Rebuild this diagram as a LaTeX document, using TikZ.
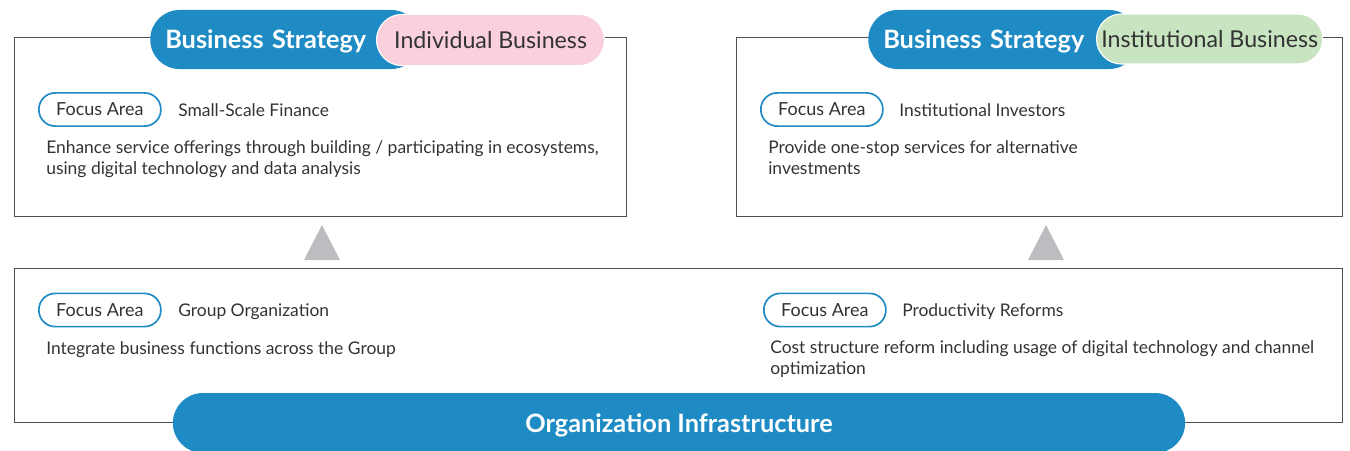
\documentclass[tikz,border=0pt]{standalone}
\usepackage{fontspec}
\setmainfont{Lato}
\usetikzlibrary{positioning,shapes.geometric}
\definecolor{stratblue}{HTML}{1F8BC4}
\definecolor{indpink}{HTML}{F9D0DC}
\definecolor{instgreen}{HTML}{C8E4C0}
\definecolor{framegray}{HTML}{505050}
\definecolor{arrowgray}{HTML}{BCBDC0}
\definecolor{textdark}{HTML}{333333}

\begin{document}
\begin{tikzpicture}[x=0.025cm, y=-0.025cm,
    panel/.style={draw=framegray, line width=0.6pt, inner sep=0pt, anchor=north west},
    headpill/.style={fill=stratblue, text=white, font=\fontsize{18}{20}\selectfont\bfseries, text depth=0pt, rounded corners=0.73cm, minimum height=1.475cm, inner xsep=0.375cm, text width=6cm, align=left, anchor=west},
    subpill/.style={draw=white, line width=0.8pt, rounded corners=0.64cm, minimum height=1.28cm, font=\fontsize{16.5}{18}\selectfont, text=textdark, anchor=west},
    focus/.style={draw=stratblue, line width=1.2pt, fill=white, rounded corners=0.41cm, minimum width=3.05cm, minimum height=0.83cm, font=\fontsize{12.8}{14}\selectfont, text=textdark, anchor=west},
    topic/.style={font=\fontsize{12.4}{14}\selectfont, text=textdark, anchor=west, inner sep=0pt},
    desc/.style={font=\fontsize{12.4}{15}\selectfont, text=textdark, anchor=north west, inner sep=0pt, align=left},
    basepill/.style={fill=stratblue, text=white, font=\fontsize{18}{20}\selectfont\bfseries, text depth=0pt, rounded corners=0.75cm, minimum width=25.3cm, minimum height=1.5cm}
]
\useasboundingbox (0,0) rectangle (1350,450);
\clip (0,0) rectangle (1350,450);

% Frames
\node[panel, minimum width=15.3cm, minimum height=4.475cm] (indbox) at (14,37) {};
\node[panel, minimum width=15.15cm, minimum height=4.475cm] (instbox) at (736,37) {};
\node[panel, minimum width=33.2cm, minimum height=3.85cm] (orgbox) at (14,268) {};

% Headings on top of the frames
\node[headpill] (indhead) at (150,39.5) {Business Strategy};
\node[subpill, fill=indpink, minimum width=5.7cm] (indtag) at (376,40) {Individual Business};
\node[headpill] (insthead) at (868,39.5) {Business Strategy};
\node[subpill, fill=instgreen, minimum width=5.6cm, minimum height=1.25cm, rounded corners=0.62cm] (insttag) at (1096,39) {Institutional Business};

% Individual business
\node[focus] (indfocus) at (38,109.5) {Focus Area};
\node[topic] (indtopic) at (178,110) {Small-Scale Finance};
\node[desc] (inddesc) at (46,140) {Enhance service offerings through building / participating in ecosystems,\\using digital technology and data analysis};

% Institutional business
\node[focus] (instfocus) at (760,109.5) {Focus Area};
\node[topic] (insttopic) at (899,110) {Institutional Investors};
\node[desc] (instdesc) at (768,140) {Provide one-stop services for alternative\\investments};

% Organization infrastructure
\node[focus] (grpfocus) at (38,310) {Focus Area};
\node[topic] (grptopic) at (178,312) {Group Organization};
\node[desc] (grpdesc) at (46,341) {Integrate business functions across the Group};
\node[focus] (prodfocus) at (763,310) {Focus Area};
\node[topic] (prodtopic) at (902,312) {Productivity Reforms};
\node[desc] (proddesc) at (770,340) {Cost structure reform including usage of digital technology and channel\\optimization};
\node[basepill] (orghead) at (679,423) {Organization Infrastructure};

% Upward triangles between the frames
\coordinate (indup) at (322,260);
\coordinate (instup) at (1046,260);
\foreach \p in {indup, instup}
  \fill[arrowgray] (\p) ++(-18,0) -- ++(18,-35) -- ++(18,35) -- cycle;
\end{tikzpicture}
\end{document}
